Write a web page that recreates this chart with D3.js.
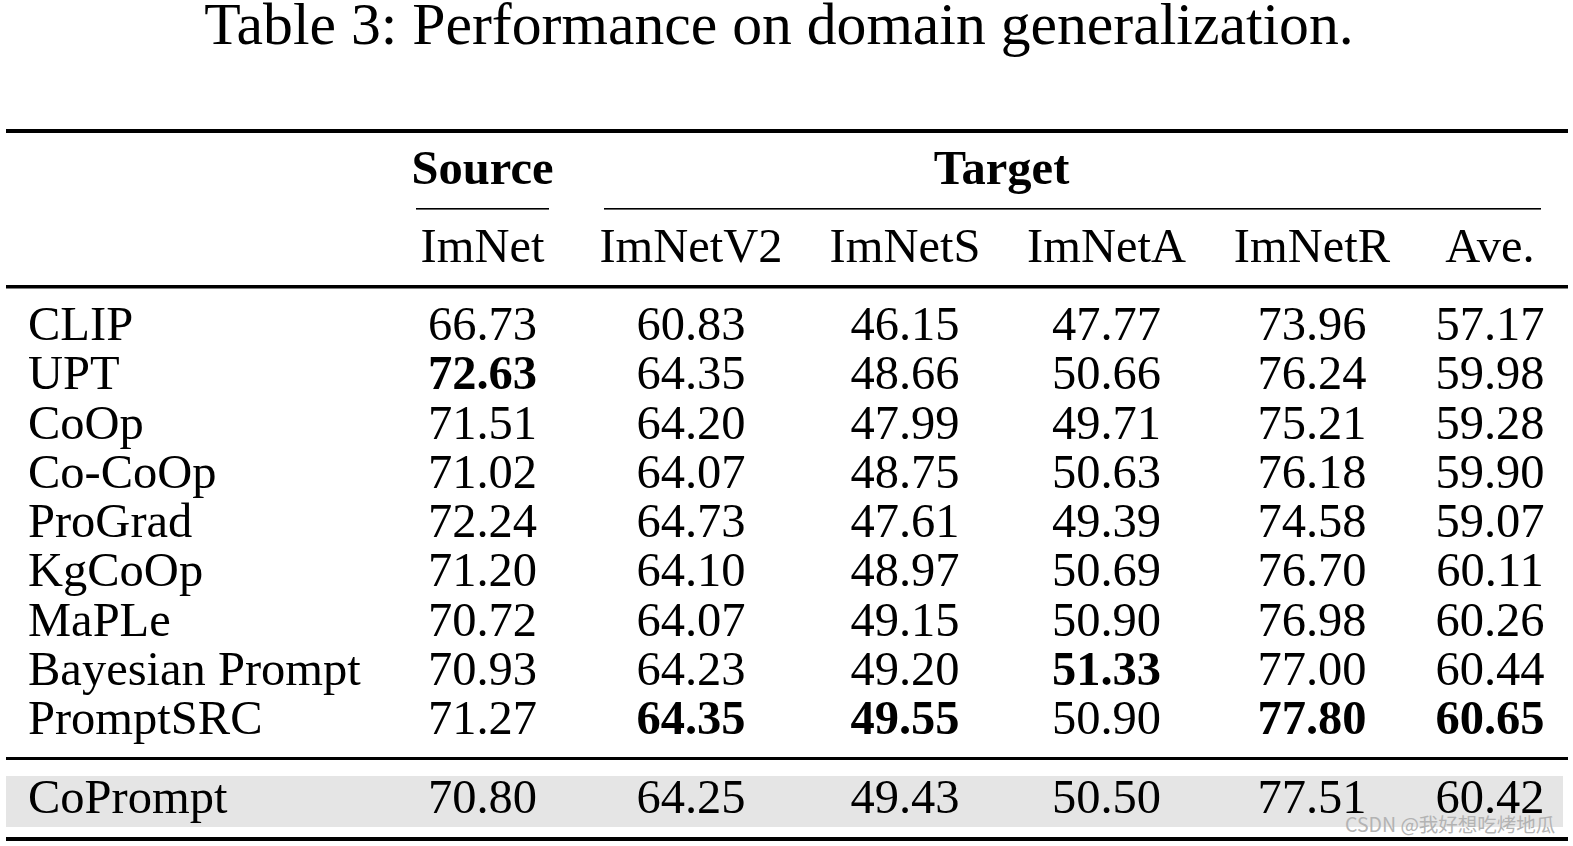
<!DOCTYPE html>
<meta charset="utf-8">
<style>
  body{margin:0;background:#fff;}
  text{font-family:"Liberation Serif","Times New Roman",serif;fill:#000;}
  .wm{font-family:"Noto Sans CJK SC","DejaVu Sans",sans-serif;fill:#b3b3b3;}
</style>
<body>
<script src="https://cdn.jsdelivr.net/npm/d3@7"></script>
<script>

  var title = "Table 3: Performance on domain generalization.";
  var columns = ["ImNet","ImNetV2","ImNetS","ImNetA","ImNetR","Ave."];
  var methods = ["CLIP","UPT","CoOp","Co-CoOp","ProGrad","KgCoOp","MaPLe","Bayesian Prompt","PromptSRC"];
  var imnet   = ["66.73","72.63","71.51","71.02","72.24","71.20","70.72","70.93","71.27"];
  var imnetv2 = ["60.83","64.35","64.20","64.07","64.73","64.10","64.07","64.23","64.35"];
  var imnets  = ["46.15","48.66","47.99","48.75","47.61","48.97","49.15","49.20","49.55"];
  var imneta  = ["47.77","50.66","49.71","50.63","49.39","50.69","50.90","51.33","50.90"];
  var imnetr  = ["73.96","76.24","75.21","76.18","74.58","76.70","76.98","77.00","77.80"];
  var ave     = ["57.17","59.98","59.28","59.90","59.07","60.11","60.26","60.44","60.65"];
  // bold cells as [method, column]
  var bold = [["UPT","ImNet"],["Bayesian Prompt","ImNetA"],["PromptSRC","ImNetV2"],
              ["PromptSRC","ImNetS"],["PromptSRC","ImNetR"],["PromptSRC","Ave."]];
  var ours = ["CoPrompt","70.80","64.25","49.43","50.50","77.51","60.42"];

  var W = 1573, H = 846, fs = 48.5;
  var svg = d3.select("body").append("svg").attr("width", W).attr("height", H);

  var x = d3.scaleOrdinal().domain(columns).range([482.5, 691, 905, 1106.5, 1312, 1490]);
  var y = d3.scaleLinear().domain([0, methods.length - 1]).range([340, 734]);
  var cols = [imnet, imnetv2, imnets, imneta, imnetr, ave];

  function put(g, str, px, py, size, anchor, weight){
    return g.append("text")
      .attr("x", px).attr("y", py)
      .attr("text-anchor", anchor || "middle")
      .style("font-size", size + "px")
      .style("font-weight", weight || "normal")
      .text(str);
  }
  function rule(y0, h, x0, x1){
    svg.append("rect").attr("x", x0 || 6).attr("width", (x1 || 1568) - (x0 || 6))
      .attr("y", y0).attr("height", h).attr("fill", "#000");
  }

  // title
  put(svg, title, 779, 44, 59.7);

  // rules
  rule(129, 4);
  rule(208, 1.6, 416, 549);
  rule(208, 1.6, 604, 1541);
  rule(285, 3.5);
  rule(757, 3);
  svg.append("rect").attr("x", 6).attr("width", 1557).attr("y", 776).attr("height", 51).attr("fill", "#e5e5e5");
  rule(837, 4);

  // header
  put(svg, "Source", x("ImNet"), 184, fs, "middle", "bold");
  put(svg, "Target", (x("ImNetV2") + x("ImNetR")) / 2, 184, fs, "middle", "bold");
  columns.forEach(function(c){ put(svg, c, x(c), 262, fs); });

  // body
  var isBold = function(m, c){ return bold.some(function(b){ return b[0] === m && b[1] === c; }); };
  var body = svg.append("g");
  methods.forEach(function(m, i){
    put(body, m, 28, y(i), fs, "start");
    columns.forEach(function(c, j){
      put(body, cols[j][i], x(c), y(i), fs, "middle", isBold(m, c) ? "bold" : "normal");
    });
  });

  // our method row
  put(svg, ours[0], 28, 813, fs, "start");
  columns.forEach(function(c, j){ put(svg, ours[j + 1], x(c), 813, fs); });

  // watermark
  svg.append("text").attr("class", "wm").attr("x", 1345).attr("y", 832)
    .style("font-size", "19.5px").text("CSDN @我好想吃烤地瓜");
</script>
</body>
</html>
